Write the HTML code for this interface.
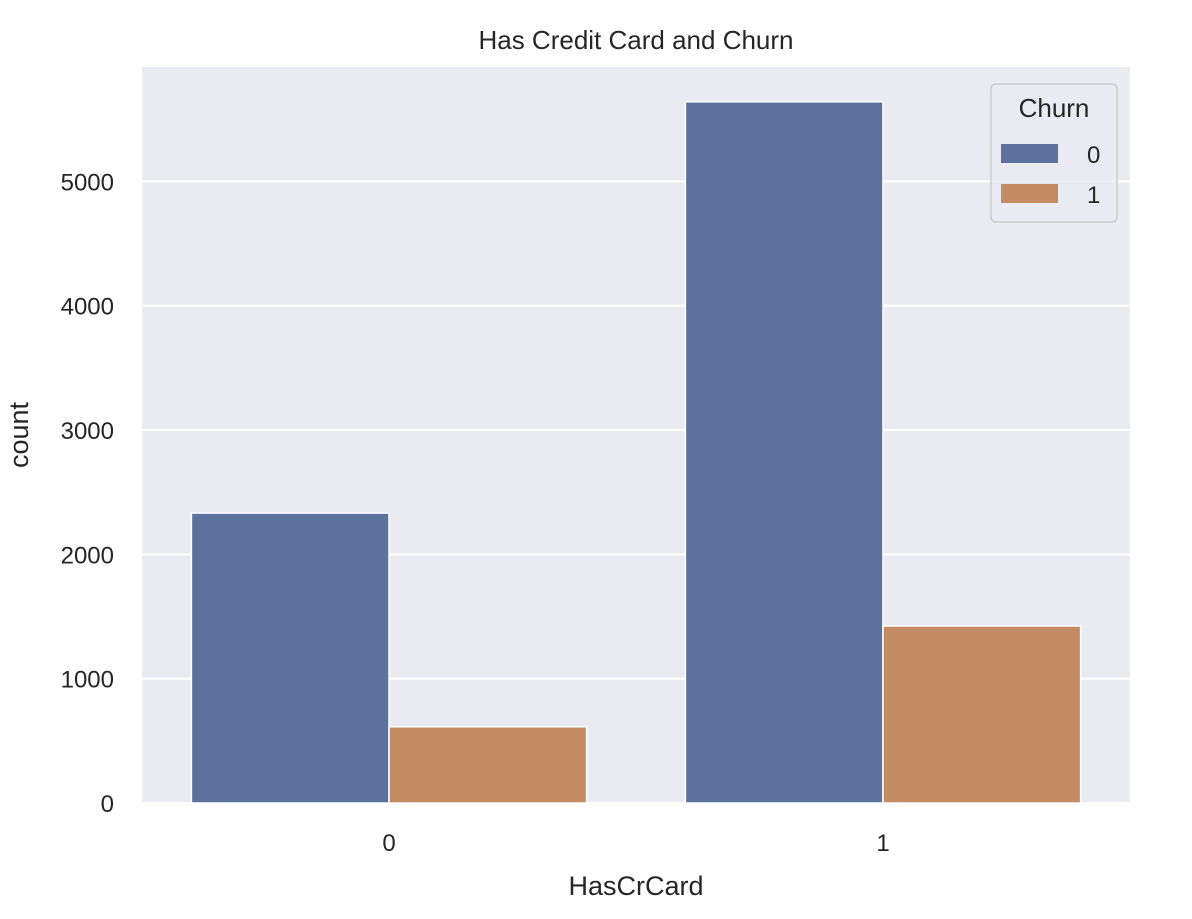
<!DOCTYPE html>
<html><head><meta charset="utf-8">
<style>
html,body{margin:0;padding:0;background:#fff;}
body{width:1192px;height:914px;overflow:hidden;font-family:"Liberation Sans","DejaVu Sans",sans-serif;}
</style></head>
<body>
<svg id="chart" width="1192" height="914" xmlns="http://www.w3.org/2000/svg" font-family="Liberation Sans, DejaVu Sans, sans-serif" fill="#262626">
</svg>
<script>
const categories = ["0", "1"];
const churn0Values = [2332, 5640];
const churn1Values = [613, 1424];
const yTicks = [0, 1000, 2000, 3000, 4000, 5000];
const seriesNames = ["0", "1"];

const svg = document.getElementById('chart');
const NS = 'http://www.w3.org/2000/svg';
const L = 142, R = 1130, T = 67, B = 803;
const yMax = 5920;
function y(v){ return B - v / yMax * (B - T); }
const band = (R - L) / categories.length;
function xc(i){ return L + band * (i + 0.5); }
const barW = band * 0.4;
const colors = ['#5e72a0', '#c28b64'];

function mk(tag, attrs, parent){
  const e = document.createElementNS(NS, tag);
  for (const k in attrs) e.setAttribute(k, attrs[k]);
  (parent || svg).appendChild(e);
  return e;
}

const bg = mk('rect', {x:L, y:T, width:R-L, height:B-T, fill:'#eaeaf2'});



yTicks.forEach(v => {
  const g = mk('line', {x1:L, x2:R, y1:y(v), y2:y(v), stroke:'#fff', 'stroke-width':2});
  
  
  const t = mk('text', {x:L-28, y:y(v)+9, 'text-anchor':'end', 'font-size':24});
  t.textContent = v;
  
  
});

[churn0Values, churn1Values].forEach((vals, s) => {
  vals.forEach((v, i) => {
    const x0 = xc(i) - barW + s * barW;
    const r = mk('rect', {x:x0, y:y(v), width:barW, height:B - y(v), fill:colors[s], stroke:'#fff', 'stroke-width':1.5});
    
    
  });
});

categories.forEach((c, i) => {
  const t = mk('text', {x:xc(i), y:B+48, 'text-anchor':'middle', 'font-size':24});
  t.textContent = c;
  
  
});

const title = mk('text', {x:(L+R)/2, y:49, 'text-anchor':'middle', 'font-size':26});
title.textContent = 'Has Credit Card and Churn';



const xl = mk('text', {x:(L+R)/2, y:895, 'text-anchor':'middle', 'font-size':27});
xl.textContent = 'HasCrCard';



const yl = mk('text', {x:0, y:0, 'text-anchor':'middle', 'font-size':27, transform:'translate(28,' + ((T+B)/2) + ') rotate(-90)'});
yl.textContent = 'count';



const lg = mk('g', {});


mk('rect', {x:991, y:84, width:126, height:138, rx:5, fill:'#eaeaf2', stroke:'#cccccc', 'stroke-width':1.5, 'fill-opacity':0.8}, lg);
const lt = mk('text', {x:1054, y:117, 'text-anchor':'middle', 'font-size':26}, lg);
lt.textContent = 'Churn';


seriesNames.forEach((n, s) => {
  const yy = 144 + s * 40;
  const p = mk('rect', {x:1001, y:yy, width:57, height:19, fill:colors[s]}, lg);
  
  
  const t = mk('text', {x:1087, y:yy+19, 'font-size':24}, lg);
  t.textContent = n;
  
  
});
</script>
</body></html>
